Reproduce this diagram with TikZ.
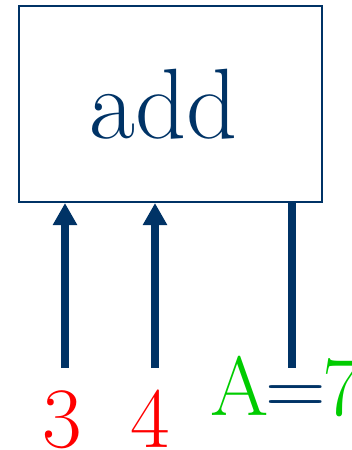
\documentclass[tikz,border=0pt]{standalone}
\usepackage{xcolor}
\usepackage{tikz}
\usetikzlibrary{arrows.meta,positioning}
\definecolor{navy}{RGB}{0,51,102}
\definecolor{argred}{RGB}{255,0,0}
\definecolor{resgreen}{RGB}{0,204,0}

\begin{document}
\begin{tikzpicture}[x=1pt, y=1pt,
  func/.style={draw=navy, line width=2pt, minimum width=303pt, minimum height=196pt,
    inner sep=0pt, text=navy, font=\fontsize{100}{100}\selectfont},
  arg/.style={anchor=base, inner sep=0pt, text=argred, font=\fontsize{86}{86}\selectfont},
  res/.style={anchor=base west, inner sep=0pt, text=resgreen, font=\fontsize{84}{84}\selectfont},
  flow/.style={-{Triangle[width=23pt,length=22pt]}, line width=8pt, draw=navy},
  wire/.style={line width=8pt, draw=navy}
]
\useasboundingbox (0,0) rectangle (352,-450);

% Function box.
\node[func] (add) at (170.5,-104) {add\kern14pt};

% Arguments and result.
\node[arg] (three) at (62.5,-447) {3};
\node[arg] (four) at (150,-447) {4};
\node[res] (result) at (210,-415) {A\kern-3pt\textcolor{navy}{=}\kern-3pt7};

\coordinate (in1) at (65,-368);
\coordinate (in2) at (155,-368);
\coordinate (out) at (292,-368);

\draw[flow] (in1) -- (in1 |- add.south);
\draw[flow] (in2) -- (in2 |- add.south);
\draw[wire] (out |- add.south) -- (out);

\end{tikzpicture}
\end{document}
